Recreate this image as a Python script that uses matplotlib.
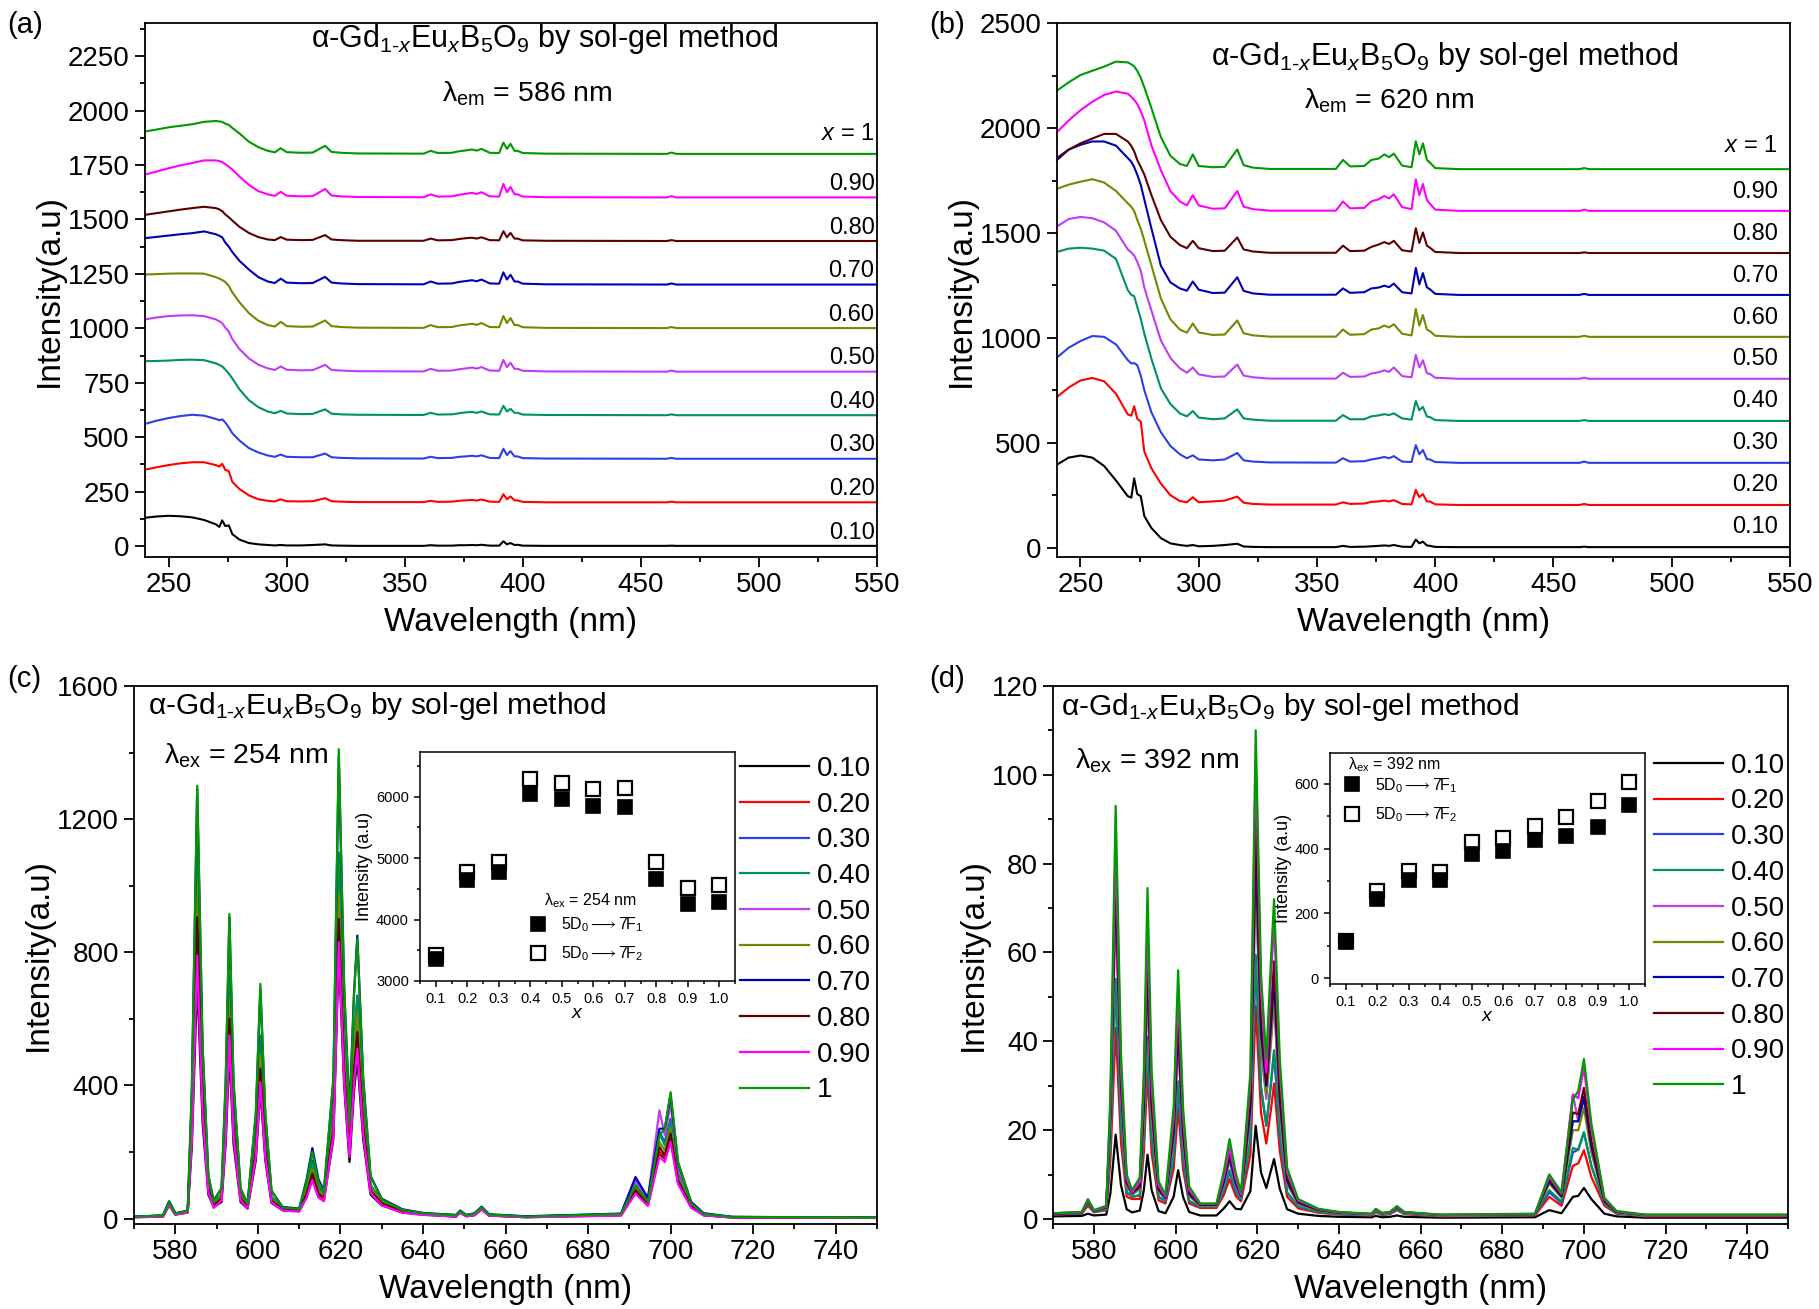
#!/usr/bin/env python3
"""
alpha-Gd(1-x)Eu(x)B5O9 excitation / emission spectra, four panels.
"""

import matplotlib
matplotlib.use("Agg")
import matplotlib.pyplot as plt
from matplotlib.ticker import MultipleLocator, FormatStrFormatter

plt.rcParams['font.family'] = ['Liberation Sans', 'DejaVu Sans']
plt.rcParams['mathtext.fontset'] = 'custom'
plt.rcParams['mathtext.rm'] = 'Liberation Sans'
plt.rcParams['mathtext.it'] = 'Liberation Sans:italic'
plt.rcParams['mathtext.bf'] = 'Liberation Sans:bold'

# ─── data ─────────────────────────────────────────────────────────────────
conc_labels = ['0.10', '0.20', '0.30', '0.40', '0.50',
               '0.60', '0.70', '0.80', '0.90', '1']
colors = ['#000000', '#FF0000', '#2B3FE8', '#009065', '#C03CF0',
          '#6E8B00', '#0000B4', '#5A0000', '#FF00FF', '#009A00']
offsets = [0, 200, 400, 600, 800, 1000, 1200, 1400, 1600, 1800]

# excitation spectra (a: em 586 nm, b: em 620 nm), values above each offset
ex_wl = [240, 245, 250, 255, 260, 265, 270, 271.5, 272.7, 274,
         275.5, 277, 280, 284, 288, 292, 295, 297.5, 300, 306,
         311, 316.3, 319, 323, 330, 358, 361, 364, 370, 373,
         376, 378.5, 380.5, 382.5, 386, 390, 391.8, 393.3, 394.8, 396.5,
         397.8, 400, 410, 461, 463, 465, 550]

a_int = [
    [130, 136, 139, 137, 132, 120, 100, 88, 118, 92,
     95, 55, 30, 14, 8, 5, 3, 5, 3, 3,
     5, 8, 3, 2, 1, 1, 4, 2, 2, 4,
     4, 5, 4, 6, 2, 2, 22, 8, 14, 5,
     6, 2, 1, 1, 2, 1, 1],
    [151, 162, 172, 180, 185, 185, 172, 165, 178, 150,
     144, 95, 62, 33, 15, 8, 5, 15, 6, 5,
     6, 20, 6, 4, 2, 2, 8, 3, 4, 8,
     10, 12, 9, 14, 4, 3, 38, 15, 28, 10,
     10, 3, 1, 1, 4, 1, 1],
    [161, 176, 188, 197, 203, 199, 184, 178, 182, 168,
     145, 118, 85, 50, 30, 16, 10, 20, 10, 8,
     8, 25, 8, 5, 3, 2, 10, 4, 5, 10,
     12, 15, 12, 17, 5, 4, 47, 18, 36, 12,
     12, 4, 2, 1, 5, 1, 1],
    [249, 250, 252, 255, 256, 254, 239, 232, 225, 211,
     192, 170, 120, 70, 38, 18, 10, 21, 9, 6,
     7, 28, 8, 5, 3, 2, 12, 4, 5, 10,
     14, 16, 12, 18, 5, 4, 44, 18, 30, 12,
     12, 4, 2, 1, 5, 1, 1],
    [241, 250, 256, 259, 260, 256, 241, 232, 224, 203,
     185, 150, 105, 62, 33, 16, 9, 25, 10, 7,
     8, 32, 9, 6, 3, 2, 14, 5, 6, 12,
     16, 20, 15, 22, 6, 5, 55, 22, 42, 14,
     14, 5, 2, 1, 6, 1, 1],
    [247, 249, 251, 252, 252, 251, 235, 228, 222, 213,
     195, 165, 120, 70, 35, 15, 8, 30, 10, 7,
     8, 36, 10, 6, 3, 2, 15, 5, 6, 13,
     17, 21, 16, 24, 6, 5, 57, 24, 47, 15,
     15, 5, 2, 1, 6, 1, 1],
    [214, 220, 226, 232, 237, 245, 232, 225, 218, 194,
     175, 150, 110, 70, 35, 15, 8, 28, 10, 7,
     8, 36, 10, 6, 3, 2, 15, 5, 6, 13,
     17, 21, 16, 24, 6, 5, 57, 24, 46, 15,
     15, 5, 2, 1, 6, 1, 1],
    [121, 129, 137, 145, 152, 158, 152, 146, 138, 123,
     110, 95, 66, 38, 19, 8, 5, 19, 7, 5,
     6, 28, 8, 5, 2, 2, 12, 4, 5, 10,
     14, 16, 12, 18, 5, 4, 46, 18, 38, 12,
     12, 4, 2, 1, 5, 1, 1],
    [106, 120, 135, 148, 159, 171, 171, 168, 163, 154,
     142, 129, 97, 59, 30, 15, 8, 27, 9, 6,
     7, 40, 10, 6, 3, 2, 15, 5, 6, 13,
     18, 22, 17, 25, 6, 5, 63, 25, 49, 16,
     15, 5, 2, 1, 7, 1, 1],
    [104, 113, 123, 130, 137, 148, 152, 150, 148, 140,
     134, 120, 95, 57, 32, 15, 8, 27, 9, 6,
     7, 38, 10, 6, 3, 2, 15, 5, 6, 13,
     17, 21, 16, 24, 6, 5, 53, 24, 47, 15,
     15, 5, 2, 1, 7, 1, 1],
]

b_int = [
    [395, 429, 439, 429, 389, 320, 245, 238, 330, 255,
     245, 150, 93, 45, 20, 12, 8, 12, 6, 8,
     12, 18, 5, 3, 2, 2, 8, 3, 4, 6,
     8, 10, 8, 12, 4, 3, 38, 20, 28, 10,
     8, 3, 2, 2, 4, 2, 2],
    [518, 563, 597, 609, 593, 534, 435, 429, 474, 415,
     400, 257, 178, 105, 50, 22, 16, 40, 16, 20,
     24, 43, 14, 8, 5, 5, 16, 8, 10, 18,
     20, 24, 20, 26, 8, 6, 75, 40, 55, 20,
     20, 6, 3, 3, 8, 3, 3],
    [506, 553, 585, 609, 605, 569, 494, 478, 480, 470,
     420, 350, 245, 150, 85, 45, 26, 40, 20, 16,
     20, 51, 16, 10, 6, 5, 26, 10, 12, 20,
     26, 32, 26, 36, 10, 8, 89, 45, 65, 22,
     20, 8, 4, 4, 10, 4, 4],
    [810, 826, 830, 826, 816, 777, 628, 605, 599, 549,
     490, 420, 300, 160, 85, 40, 26, 51, 20, 12,
     16, 59, 16, 10, 5, 5, 32, 12, 12, 26,
     30, 36, 32, 40, 16, 10, 99, 55, 71, 25,
     22, 8, 4, 4, 8, 4, 4],
    [731, 767, 777, 771, 751, 711, 622, 608, 593, 563,
     520, 440, 330, 188, 105, 55, 34, 59, 26, 14,
     16, 73, 20, 12, 6, 6, 34, 14, 16, 30,
     36, 45, 38, 59, 18, 12, 119, 59, 93, 32,
     28, 10, 5, 5, 10, 5, 5],
    [711, 731, 745, 757, 741, 701, 642, 625, 605, 563,
     520, 464, 346, 188, 89, 40, 25, 69, 26, 14,
     16, 83, 22, 12, 6, 6, 40, 15, 18, 40,
     45, 59, 50, 65, 20, 12, 138, 59, 109, 40,
     32, 10, 5, 5, 10, 5, 5],
    [648, 698, 721, 737, 737, 717, 658, 640, 615, 579,
     530, 460, 322, 144, 65, 36, 25, 69, 30, 14,
     16, 89, 24, 12, 6, 6, 36, 15, 18, 36,
     40, 49, 42, 59, 18, 12, 134, 55, 109, 41,
     32, 10, 5, 5, 10, 5, 5],
    [458, 498, 528, 551, 573, 573, 537, 515, 490, 449,
     415, 379, 281, 162, 83, 43, 28, 63, 28, 14,
     16, 79, 22, 12, 6, 6, 40, 14, 16, 34,
     45, 57, 48, 63, 18, 12, 123, 53, 103, 40,
     30, 10, 5, 5, 8, 5, 5],
    [381, 437, 486, 526, 559, 575, 565, 550, 535, 516,
     480, 437, 318, 200, 101, 51, 32, 81, 32, 16,
     18, 101, 26, 14, 7, 7, 51, 18, 20, 51,
     61, 77, 65, 85, 24, 14, 156, 81, 134, 57,
     40, 12, 6, 6, 12, 6, 6],
    [379, 419, 454, 474, 494, 518, 514, 505, 495, 474,
     440, 395, 296, 158, 69, 30, 20, 75, 20, 14,
     16, 99, 24, 12, 6, 6, 49, 18, 20, 49,
     55, 75, 62, 79, 22, 14, 138, 75, 128, 49,
     36, 10, 5, 5, 10, 5, 5],
]

# emission spectra (c: ex 254 nm, d: ex 392 nm)
em_wl = [570, 577, 578.5, 580, 583,
         584.0, 585.3, 586.6, 588.0, 589.3,
         591.2, 592.2, 593.1, 594.1, 595.8,
         597.5, 599.5, 600.6, 601.8, 603.3,
         606, 610, 611.8, 613.2, 614.7,
         616, 618.3, 619.6, 620.9, 622.2,
         623.3, 624.1, 625.5, 627.3, 630,
         635, 640, 648, 649, 650.5,
         652.5, 654.2, 656, 665, 688,
         691.5, 694.5, 697.3, 698.6, 700,
         701.8, 705, 708, 715, 750]

c_int = [
    [4, 6, 40, 12, 18, 216, 720, 288, 72, 35,
     50, 225, 500, 225, 50, 30, 175, 390, 175, 47,
     25, 22, 65, 118, 65, 55, 240, 800, 400, 170,
     384, 480, 240, 72, 40, 18, 12, 6, 18, 7,
     10, 28, 9, 4, 10, 80, 40, 195, 180, 240,
     108, 35, 10, 3, 2],
    [5, 7, 45, 13, 20, 255, 850, 340, 85, 40,
     57, 256, 570, 256, 57, 35, 194, 430, 194, 52,
     28, 25, 69, 125, 69, 60, 258, 860, 430, 195,
     424, 530, 265, 80, 45, 20, 13, 7, 20, 8,
     12, 30, 10, 5, 11, 85, 42, 200, 185, 245,
     110, 38, 11, 4, 2],
    [6, 9, 50, 15, 22, 309, 1030, 412, 103, 48,
     70, 315, 700, 315, 70, 42, 238, 530, 238, 64,
     32, 28, 96, 175, 96, 75, 327, 1090, 545, 260,
     536, 670, 335, 100, 55, 25, 15, 10, 22, 10,
     15, 33, 12, 6, 14, 115, 55, 260, 230, 300,
     135, 48, 15, 5, 3],
    [6, 9, 50, 15, 22, 348, 1160, 464, 116, 48,
     73, 328, 730, 328, 73, 42, 248, 550, 248, 66,
     32, 28, 91, 165, 91, 72, 330, 1100, 550, 250,
     532, 665, 333, 100, 52, 24, 15, 9, 21, 9,
     14, 32, 11, 6, 13, 95, 48, 255, 220, 290,
     130, 42, 13, 4, 3],
    [5, 8, 48, 14, 21, 288, 960, 384, 96, 42,
     64, 288, 640, 288, 64, 38, 212, 470, 212, 56,
     30, 26, 80, 145, 80, 65, 285, 950, 475, 220,
     480, 600, 300, 90, 50, 22, 14, 8, 20, 8,
     13, 30, 11, 5, 13, 110, 60, 325, 250, 345,
     155, 40, 12, 4, 2],
    [5, 8, 47, 14, 21, 302, 1005, 402, 100, 45,
     66, 297, 660, 297, 66, 40, 220, 490, 220, 59,
     30, 27, 83, 150, 83, 68, 293, 975, 488, 230,
     496, 620, 310, 93, 50, 22, 14, 8, 20, 8,
     13, 30, 11, 5, 12, 90, 46, 230, 205, 270,
     122, 40, 12, 4, 2],
    [6, 9, 52, 16, 24, 387, 1290, 516, 129, 55,
     90, 407, 905, 407, 90, 45, 310, 690, 310, 83,
     35, 30, 117, 212, 117, 85, 415, 1385, 693, 320,
     680, 850, 425, 128, 60, 28, 17, 11, 24, 11,
     16, 36, 13, 7, 15, 125, 62, 270, 270, 370,
     167, 50, 16, 5, 3],
    [5, 7, 45, 13, 20, 272, 905, 362, 90, 40,
     60, 270, 600, 270, 60, 36, 203, 450, 203, 54,
     28, 25, 74, 135, 74, 62, 270, 900, 450, 200,
     448, 560, 280, 84, 46, 21, 13, 7, 20, 8,
     12, 30, 10, 5, 11, 85, 43, 215, 190, 255,
     115, 36, 11, 4, 2],
    [4, 6, 42, 12, 18, 237, 790, 316, 79, 32,
     55, 248, 550, 248, 55, 30, 185, 410, 185, 49,
     24, 21, 63, 115, 63, 52, 249, 830, 415, 185,
     408, 510, 255, 77, 40, 18, 11, 6, 17, 7,
     10, 27, 9, 4, 9, 75, 38, 185, 170, 230,
     104, 32, 10, 3, 2],
    [6, 9, 50, 15, 23, 390, 1300, 520, 130, 50,
     92, 412, 915, 412, 92, 43, 317, 705, 317, 85,
     33, 29, 110, 200, 110, 80, 423, 1410, 705, 290,
     672, 840, 420, 126, 58, 26, 16, 10, 22, 10,
     15, 34, 12, 6, 14, 100, 50, 250, 270, 380,
     171, 45, 14, 5, 3],
]

d_int = [
    [0.6, 0.7, 1.2, 0.8, 1.0, 5.7, 19, 7.6, 2.2, 1.5,
     1.9, 6.5, 14.5, 6.5, 1.8, 1.3, 5, 11, 5, 1.6,
     0.8, 0.8, 2.4, 4, 2.3, 2.2, 6.3, 21, 10.5, 7,
     10.8, 13.5, 6.8, 2.2, 1.2, 0.7, 0.5, 0.4, 0.7, 0.4,
     0.5, 0.8, 0.5, 0.3, 0.4, 2, 1.3, 5, 5.2, 7,
     4.5, 1.2, 0.6, 0.3, 0.3],
    [1.0, 1.2, 3, 1.5, 2.0, 12.9, 43, 17.2, 5, 4.5,
     4.5, 14.9, 33, 14.9, 4.2, 3.5, 11.3, 25, 11.3, 3.5,
     2.5, 2.5, 5.4, 9, 5.2, 4, 14.4, 48, 24, 17,
     24.4, 30.5, 15.3, 5, 2.4, 1.4, 1.0, 0.8, 1.5, 0.9,
     1.1, 2.0, 1.1, 0.6, 0.8, 5, 3, 12, 12.5, 15.5,
     9.5, 3, 1.2, 0.6, 0.6],
    [1.1, 1.3, 3.5, 1.6, 2.2, 16.2, 54, 21.6, 6, 5,
     5.4, 18.5, 41, 18.5, 5, 4, 13.5, 30, 13.5, 4,
     2.8, 2.8, 6.3, 10.5, 6.1, 4.5, 17.7, 59, 29.5, 21,
     30, 37.5, 18.8, 6, 2.8, 1.6, 1.1, 0.9, 1.7, 1.0,
     1.2, 2.2, 1.2, 0.7, 0.9, 6, 3.6, 15, 15.6, 19.5,
     12, 3.5, 1.3, 0.7, 0.7],
    [1.1, 1.3, 3.5, 1.6, 2.2, 16.2, 54, 21.6, 6, 5,
     5.3, 18, 40, 18, 5, 4, 14, 31, 14, 4.1,
     2.8, 2.8, 6.6, 11, 6.4, 4.5, 17.9, 59.5, 29.8, 21,
     30.4, 38, 19, 6, 2.8, 1.6, 1.1, 0.9, 1.7, 1.0,
     1.2, 2.2, 1.2, 0.7, 0.9, 6.5, 3.9, 16, 15.6, 19.5,
     12, 3.5, 1.3, 0.7, 0.7],
    [1.2, 1.4, 4, 1.8, 2.5, 21, 70, 28, 7.5, 5.5,
     6.8, 23.9, 53, 23.9, 6.2, 4.5, 18, 40, 18, 5.2,
     3, 3, 7.8, 13, 7.5, 5, 22.8, 76, 38, 27,
     39.2, 49, 24.5, 7.8, 3.4, 1.9, 1.3, 1.0, 2.0, 1.2,
     1.4, 2.5, 1.4, 0.8, 1.0, 10, 6, 28, 22, 27,
     16, 4, 1.5, 0.8, 0.8],
    [1.2, 1.4, 4, 1.8, 2.5, 21.6, 72, 28.8, 7.7, 5.5,
     6.8, 23.9, 53, 23.9, 6.3, 4.5, 18.5, 41, 18.5, 5.3,
     3, 3, 8.1, 13.5, 7.8, 5, 23.4, 78, 39, 28,
     40, 50, 25, 8, 3.5, 1.9, 1.3, 1.0, 2.0, 1.2,
     1.4, 2.5, 1.4, 0.8, 1.0, 8, 4.8, 20, 20, 25,
     15, 4, 1.5, 0.8, 0.8],
    [1.2, 1.4, 4, 1.8, 2.6, 22.8, 76, 30.4, 8.2, 5.8,
     7.3, 25.7, 57, 25.7, 6.7, 4.7, 19.4, 43, 19.4, 5.6,
     3.2, 3.2, 8.4, 14, 8.1, 5.2, 25.2, 84, 42, 30,
     43.2, 54, 27, 8.6, 3.7, 2.0, 1.4, 1.1, 2.1, 1.3,
     1.5, 2.6, 1.5, 0.9, 1.1, 8.5, 5.1, 22, 22, 27.5,
     16.5, 4, 1.6, 0.9, 0.9],
    [1.3, 1.5, 4, 1.9, 2.7, 24, 80, 32, 8.6, 6,
     7.6, 27, 60, 27, 7, 5, 20.7, 46, 20.7, 6,
     3.3, 3.3, 9, 15, 8.7, 5.5, 27, 90, 45, 31,
     46.4, 58, 29, 9.2, 3.9, 2.1, 1.5, 1.1, 2.2, 1.3,
     1.5, 2.7, 1.5, 0.9, 1.1, 9, 5.4, 24, 23.6, 29.5,
     17.7, 4.2, 1.6, 0.9, 0.9],
    [1.3, 1.5, 4.2, 1.9, 2.8, 25.5, 85, 34, 9.1, 6,
     8.4, 30.2, 67, 30.2, 7.7, 5, 23, 51, 23, 6.6,
     3.4, 3.4, 9.6, 16, 9.3, 5.5, 30.9, 103, 51.5, 33,
     53.6, 67, 33.5, 10.5, 4.2, 2.2, 1.5, 1.1, 2.2, 1.3,
     1.5, 2.8, 1.5, 0.9, 1.1, 9.5, 5.7, 28, 27.2, 34,
     20.4, 4.5, 1.7, 0.9, 0.9],
    [1.3, 1.6, 4.5, 2.0, 3.0, 27.9, 93, 37.2, 10, 6.5,
     9.3, 33.5, 74.5, 33.5, 8.5, 5.5, 25.2, 56, 25.2, 7.3,
     3.5, 3.5, 10.8, 18, 10.4, 6, 33, 110, 55, 36,
     57.6, 72, 36, 11.5, 4.5, 2.3, 1.6, 1.2, 2.3, 1.4,
     1.6, 2.9, 1.6, 1.0, 1.2, 10, 6, 27, 28.8, 36,
     21.6, 4.8, 1.8, 1.0, 1.0],
]

# integrated intensities for the insets
x_conc = [0.1, 0.2, 0.3, 0.4, 0.5, 0.6, 0.7, 0.8, 0.9, 1.0]
c_f1 = [3350, 4650, 4770, 6040, 5960, 5850, 5840, 4660, 4250, 4280]
c_f2 = [3430, 4770, 4930, 6290, 6230, 6130, 6150, 4930, 4520, 4565]
d_f1 = [111, 244, 303, 303, 384, 392, 425, 440, 467, 535]
d_f2 = [116, 268, 330, 329, 421, 431, 468, 497, 548, 606]

for name, grid, rows in (("a", ex_wl, a_int), ("b", ex_wl, b_int),
                         ("c", em_wl, c_int), ("d", em_wl, d_int)):
    for i, r in enumerate(rows):
        if len(r) != len(grid):
            raise ValueError(f"panel {name} row {i}: {len(r)} vs {len(grid)}")

FORMULA = r'α-Gd$_{\mathrm{1‐}x}$Eu$_{x}$B$_{5}$O$_{9}$ by sol-gel method'
TICK_FS = 20
LABEL_FS = 24


# ─── helpers ──────────────────────────────────────────────────────────────
def style_axes(ax, xmaj, xmin, ymaj, ymin, fs=TICK_FS, lw=1.3, big=True):
    for sp in ax.spines.values():
        sp.set_linewidth(lw)
    ax.xaxis.set_major_locator(MultipleLocator(xmaj))
    ax.xaxis.set_minor_locator(MultipleLocator(xmin))
    ax.yaxis.set_major_locator(MultipleLocator(ymaj))
    ax.yaxis.set_minor_locator(MultipleLocator(ymin))
    L = 7 if big else 4
    ax.tick_params(which='major', direction='out', length=L, width=lw,
                   labelsize=fs, top=False, right=False, pad=4)
    ax.tick_params(which='minor', direction='out', length=L * 0.55,
                   width=lw, top=False, right=False)


def excitation_panel(ax, rows, lab_x, pad, top_pad, ylim, ymaj, ymin):
    for i, r in enumerate(rows):
        ax.plot(ex_wl, [v + offsets[i] for v in r], color=colors[i], lw=1.5)
        txt = r'$x$ = 1' if conc_labels[i] == '1' else conc_labels[i]
        dy = top_pad if conc_labels[i] == '1' else pad
        ax.text(lab_x, offsets[i] + dy, txt, ha='right', va='center',
                fontsize=17)
    ax.set_xlim(240, 550)
    ax.set_ylim(*ylim)
    style_axes(ax, 50, 25, ymaj, ymin)
    ax.set_xlabel('Wavelength (nm)', fontsize=LABEL_FS, labelpad=6)
    ax.set_ylabel('Intensity(a.u)', fontsize=LABEL_FS, labelpad=2)


def emission_panel(ax, rows, ylim, ymaj, ymin):
    for i, r in enumerate(rows):
        ax.plot(em_wl, r, color=colors[i], lw=1.6, label=conc_labels[i])
    ax.set_xlim(570, 750)
    ax.set_ylim(*ylim)
    style_axes(ax, 20, 10, ymaj, ymin)
    ax.set_xlabel('Wavelength (nm)', fontsize=LABEL_FS, labelpad=6)
    ax.set_ylabel('Intensity(a.u)', fontsize=LABEL_FS, labelpad=2)


def inset(fig, rect, f1, f2, ylim, ymaj, ymin, lam_txt, lam_xy, leg_anchor):
    ax = fig.add_axes(rect)
    ax.plot(x_conc, f2, ls='none', marker='s', ms=9.5, mfc='white',
            mec='black', mew=1.6, label=r'5D$_0$$\longrightarrow$7F$_2$')
    ax.plot(x_conc, f1, ls='none', marker='s', ms=9.5, mfc='black',
            mec='black', mew=1.2, label=r'5D$_0$$\longrightarrow$7F$_1$')
    ax.set_xlim(0.05, 1.05)
    ax.set_ylim(*ylim)
    style_axes(ax, 0.1, 0.05, ymaj, ymin, fs=10.5, lw=1.1, big=False)
    ax.xaxis.set_major_formatter(FormatStrFormatter('%.1f'))
    ax.set_xlabel('$x$', fontsize=14, labelpad=-1)
    ax.set_ylabel('Intensity (a.u)', fontsize=13, labelpad=2)
    ax.text(lam_xy[0], lam_xy[1], lam_txt, transform=ax.transAxes,
            fontsize=11.5, ha=lam_xy[2], va='center')
    h, l = ax.get_legend_handles_labels()
    ax.legend(h[::-1], l[::-1], loc='upper left', bbox_to_anchor=leg_anchor,
              frameon=False, fontsize=11.5, handlelength=1.0,
              handletextpad=0.9, labelspacing=0.65, borderpad=0,
              borderaxespad=0)
    return ax


# ─── figure ───────────────────────────────────────────────────────────────
fig = plt.figure(figsize=(18.19, 13.09), dpi=100)

ax_a = fig.add_axes([0.0797, 0.5745, 0.4024, 0.4076])
excitation_panel(ax_a, a_int, 549, 62, 90, (-50, 2400), 250, 125)
ax_a.text(0.546, 0.97, FORMULA, transform=ax_a.transAxes, ha='center',
          va='center', fontsize=22)
ax_a.text(0.523, 0.869, r'λ$_{\mathrm{em}}$ = 586 nm', transform=ax_a.transAxes,
          ha='center', va='center', fontsize=20.5)

ax_b = fig.add_axes([0.581, 0.5745, 0.403, 0.4076])
excitation_panel(ax_b, b_int, 545, 97, 117, (-45, 2500), 500, 250)
ax_b.text(0.529, 0.938, FORMULA, transform=ax_b.transAxes, ha='center',
          va='center', fontsize=22)
ax_b.text(0.453, 0.856, r'λ$_{\mathrm{em}}$ = 620 nm', transform=ax_b.transAxes,
          ha='center', va='center', fontsize=20.5)

ax_c = fig.add_axes([0.0737, 0.065, 0.4084, 0.411])
emission_panel(ax_c, c_int, (-16, 1600), 400, 200)
ax_c.text(0.019, 0.963, FORMULA, transform=ax_c.transAxes, ha='left',
          va='center', fontsize=21.5)
ax_c.text(0.04, 0.871, r'λ$_{\mathrm{ex}}$ = 254 nm', transform=ax_c.transAxes,
          ha='left', va='center', fontsize=20.5)
ax_c.legend(loc='upper left', bbox_to_anchor=(0.815, 0.870), frameon=False,
            fontsize=20, handlelength=2.5, handletextpad=0.3,
            labelspacing=0.35, borderpad=0, borderaxespad=0)

ax_d = fig.add_axes([0.579, 0.065, 0.404, 0.411])
emission_panel(ax_d, d_int, (-1.1, 120), 20, 10)
ax_d.text(0.01, 0.96, FORMULA, transform=ax_d.transAxes, ha='left',
          va='center', fontsize=21.5)
ax_d.text(0.03, 0.86, r'λ$_{\mathrm{ex}}$ = 392 nm', transform=ax_d.transAxes,
          ha='left', va='center', fontsize=20.5)
ax_d.legend(loc='upper left', bbox_to_anchor=(0.817, 0.876), frameon=False,
            fontsize=20, handlelength=2.5, handletextpad=0.3,
            labelspacing=0.35, borderpad=0, borderaxespad=0)

inset(fig, [0.2309, 0.2506, 0.1732, 0.175], c_f1, c_f2, (3000, 6730),
      1000, 500, r'λ$_{\mathrm{ex}}$ = 254 nm', (0.54, 0.35, 'center'),
      (0.35, 0.285))
inset(fig, [0.7312, 0.2483, 0.1732, 0.1765], d_f1, d_f2, (-18, 695),
      200, 100, r'λ$_{\mathrm{ex}}$ = 392 nm', (0.057, 0.948, 'left'),
      (0.045, 0.90))

for lab, x, y in (('(a)', 0.004, 0.981), ('(b)', 0.511, 0.981),
                  ('(c)', 0.004, 0.481), ('(d)', 0.511, 0.481)):
    fig.text(x, y, lab, fontsize=21, ha='left', va='center')

fig.savefig('out.png', dpi=100)
